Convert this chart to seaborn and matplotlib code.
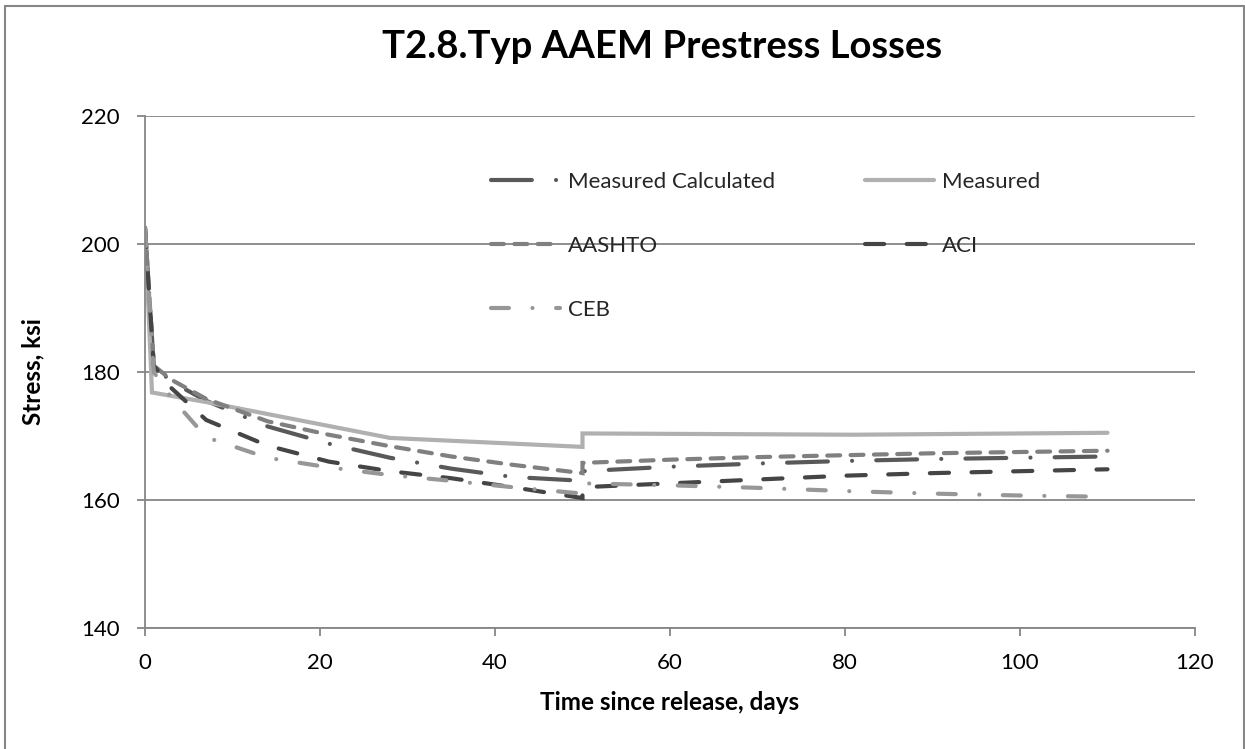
import matplotlib
matplotlib.use("Agg")
import matplotlib.pyplot as plt
import seaborn as sns
import pandas as pd
from matplotlib.lines import Line2D

# ---------------- data ----------------
days_model = [0, 1, 3, 7, 14, 21, 28, 35, 42, 50, 50, 60, 70, 80, 90, 100, 110]
measured_calc = [202.5, 181.0, 178.5, 175.5, 171.5, 168.8, 166.6, 164.9, 163.6, 163.0,
                 164.5, 165.2, 165.7, 166.1, 166.4, 166.6, 166.8]
aashto = [202.5, 181.0, 178.8, 175.8, 172.3, 170.2, 168.4, 166.8, 165.5, 164.2,
          165.8, 166.3, 166.7, 167.0, 167.3, 167.5, 167.7]
aci = [202.5, 181.0, 177.5, 172.5, 168.5, 166.0, 164.5, 163.4, 162.0, 160.3,
       162.0, 162.6, 163.2, 163.8, 164.2, 164.5, 164.8]
ceb = [202.5, 180.0, 176.0, 169.8, 166.6, 165.1, 163.9, 163.0, 162.0, 161.0,
       162.6, 162.3, 161.9, 161.4, 161.0, 160.7, 160.5]

days_measured = [0, 0.8, 7, 28, 50, 50, 81, 110]
measured = [202.5, 176.8, 175.3, 169.7, 168.3, 170.4, 170.2, 170.5]

series_names = ["Measured Calculated", "Measured", "AASHTO", "ACI", "CEB"]
x_ticks = [0, 20, 40, 60, 80, 100, 120]
y_ticks = [140, 160, 180, 200, 220]

title = "T2.8.Typ AAEM Prestress Losses"
xlabel = "Time since release, days"
ylabel = "Stress, ksi"

# ---------------- style ----------------
sns.set_theme(style="white")
plt.rcParams["font.family"] = ["Lato", "DejaVu Sans"]

W, H = 1245, 749
fig = plt.figure(figsize=(W / 100, H / 100), dpi=100)
ax = fig.add_axes([145 / W, 1 - 628 / H, 1050 / W, 512 / H])

styles = {
    "Measured Calculated": dict(color="#595959", ls=(0, (9.8, 5.8, 0.01, 5.8))),
    "Measured": dict(color="#b0b0b0", ls="-"),
    "AASHTO": dict(color="#808080", ls=(0, (3.1, 2.5))),
    "ACI": dict(color="#454545", ls=(0, (4.6, 5.4))),
    "CEB": dict(color="#979797", ls=(0, (4.3, 5.65, 0.01, 5.65))),
}

data = {
    "Measured Calculated": (days_model, measured_calc),
    "Measured": (days_measured, measured),
    "AASHTO": (days_model, aashto),
    "ACI": (days_model, aci),
    "CEB": (days_model, ceb),
}

LW = 3.0
handles = {}
for name in series_names:
    xs, ys = data[name]
    df = pd.DataFrame({"x": xs, "y": ys})
    n_before = len(ax.lines)
    sns.lineplot(data=df, x="x", y="y", ax=ax, estimator=None, sort=False,
                 color=styles[name]["color"], linewidth=LW,
                 linestyle=styles[name]["ls"], legend=False)
    line = ax.lines[n_before]
    line.set_dash_capstyle("round")
    line.set_solid_capstyle("round")
    line.set_solid_joinstyle("miter")
    line.set_dash_joinstyle("miter")
    h = Line2D([], [], color=styles[name]["color"], lw=LW, linestyle=styles[name]["ls"],
               dash_capstyle="round", solid_capstyle="round")
    handles[name] = h

gridc = "#868686"
ax.set_xlim(0, 120)
ax.set_ylim(140, 220)
ax.set_xticks(x_ticks)
ax.set_yticks(y_ticks)
ax.set_xticklabels([str(v) for v in x_ticks])
ax.set_yticklabels([str(v) for v in y_ticks])
ax.yaxis.grid(True, color=gridc, linewidth=1.3)
ax.xaxis.grid(False)
ax.set_axisbelow(True)
for s in ["top", "right"]:
    ax.spines[s].set_visible(False)
for s in ["left", "bottom"]:
    ax.spines[s].set_color(gridc)
    ax.spines[s].set_linewidth(1.3)
ax.tick_params(axis="both", which="major", direction="out", length=6, width=1.3,
               color=gridc, labelsize=16, labelcolor="black", pad=12,
               bottom=True, left=True)

ax.set_xlabel(xlabel, fontsize=17.5, fontweight="bold", color="black")
ax.set_ylabel(ylabel, fontsize=17.5, fontweight="bold", color="black")
ax.xaxis.set_label_coords((670 - 145) / 1050, (628 - 703) / 512)
ax.yaxis.set_label_coords((33 - 145) / 1050, (628 - 372) / 512)
ax.xaxis.label.set_va("center")
ax.yaxis.label.set_va("center")

fig.text(662 / W, 1 - 47 / H, title, fontsize=27.5, fontweight="bold",
         ha="center", va="center", color="black")

legkw = dict(frameon=False, loc="upper left", bbox_transform=fig.transFigure,
             fontsize=16, handlelength=3.1, handletextpad=0.35, labelspacing=1.97,
             borderpad=0, borderaxespad=0)
col1 = ["Measured Calculated", "AASHTO", "CEB"]
col2 = ["Measured", "ACI"]
leg1 = ax.legend([handles[n] for n in col1], col1,
                 bbox_to_anchor=(491 / W, 1 - 172 / H), **legkw)
ax.add_artist(leg1)
leg2 = ax.legend([handles[n] for n in col2], col2,
                 bbox_to_anchor=(865 / W, 1 - 172 / H), **legkw)

# chart-area border
for (x0, y0, x1, y1) in [(5.5, 5.5, 5.5, H + 5), (5.5, 5.5, 1243.5, 5.5), (1243.5, 5.5, 1243.5, H + 5)]:
    fig.add_artist(Line2D([x0 / W, x1 / W], [1 - y0 / H, 1 - y1 / H],
                          transform=fig.transFigure, color=gridc, lw=1.5))

fig.savefig("out.png", dpi=100, facecolor="white")
